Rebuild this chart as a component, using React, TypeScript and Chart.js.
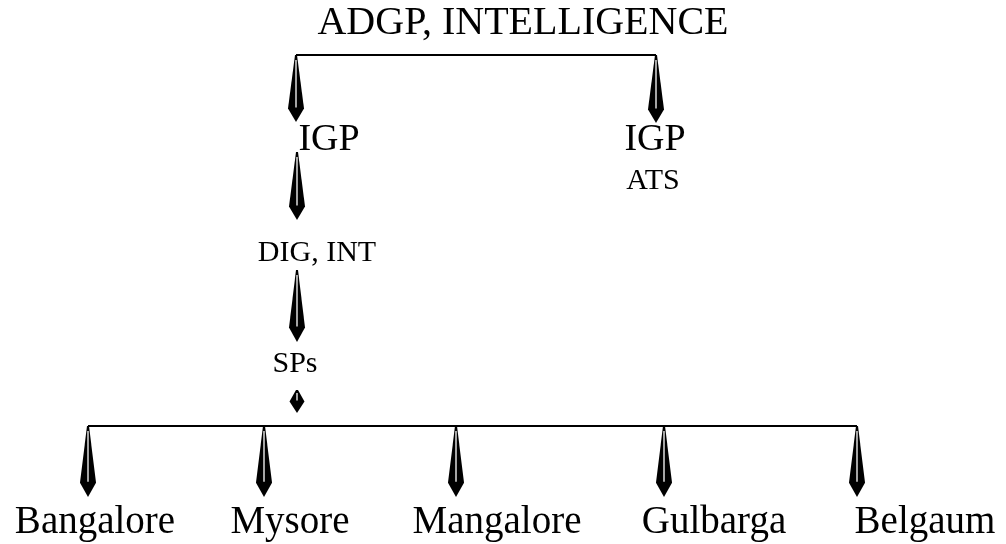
import React, { useEffect, useRef } from "react";
import { Chart, registerables } from "chart.js";

Chart.register(...registerables);

// Node labels (text), their centre x, baseline y and font size
const nodeLabels = ["ADGP, INTELLIGENCE", "IGP", "IGP", "ATS", "DIG, INT", "SPs", "Bangalore", "Mysore", "Mangalore", "Gulbarga", "Belgaum"];
const nodeX = [523, 329, 655, 653, 317, 295, 95, 290, 497, 714, 925];
const nodeY = [34, 150, 150, 189, 261, 372, 533, 533, 533, 533, 533];
const nodeSize = [40, 38, 38, 30, 30, 30, 39, 39, 39, 39, 39];

// Horizontal connectors
const topBarX = [296, 656];
const topBarY = 55;
const bottomBarX = [88, 857];
const bottomBarY = 426;

// Arrows: x, top y, tip y
const arrowX = [296, 656, 297, 297, 297, 88, 264, 456, 664, 857];
const arrowTop = [55, 55, 152, 270, 390, 426, 426, 426, 426, 426];
const arrowTip = [122, 123, 220, 342, 413, 497, 497, 497, 497, 497];

const W = 1006;
const H = 544;

export default function App() {
  const ref = useRef<HTMLCanvasElement | null>(null);

  useEffect(() => {
    document.body.style.margin = "0";
    const canvas = ref.current;
    if (!canvas) return;

    const orgPlugin = {
      id: "orgPlugin",
      afterDatasetsDraw(chart: any) {
        const ctx = chart.ctx;
        const xs = chart.scales.x;
        const ys = chart.scales.y;
        ctx.save();
        // arrows
        for (let i = 0; i < arrowX.length; i++) {
          const x = xs.getPixelForValue(arrowX[i]);
          const t = ys.getPixelForValue(arrowTop[i]);
          const b = ys.getPixelForValue(arrowTip[i]);
          const L = b - t;
          const small = L < 40;
          const half = small ? 7.5 : 8;
          const wideY = t + L * (small ? 0.5 : 0.8);
          ctx.beginPath();
          ctx.moveTo(x - 1, t);
          ctx.lineTo(x + 1, t);
          ctx.lineTo(x + half, wideY);
          ctx.lineTo(x, b);
          ctx.lineTo(x - half, wideY);
          ctx.closePath();
          ctx.fillStyle = "#000";
          ctx.fill();
          ctx.beginPath();
          ctx.moveTo(x, t + (small ? 3 : 5));
          ctx.lineTo(x, wideY - 1);
          ctx.strokeStyle = "#fff";
          ctx.lineWidth = 1.3;
          ctx.stroke();
        }
        // labels
        ctx.fillStyle = "#000";
        ctx.textAlign = "center";
        ctx.textBaseline = "alphabetic";
        for (let i = 0; i < nodeLabels.length; i++) {
          ctx.font = `${nodeSize[i]}px "Liberation Serif", "Times New Roman", serif`;
          ctx.fillText(nodeLabels[i], xs.getPixelForValue(nodeX[i]), ys.getPixelForValue(nodeY[i]));
        }
        ctx.restore();
      },
    };

    const chart = new Chart(canvas, {
      type: "scatter",
      data: {
        datasets: [
          {
            data: topBarX.map((x) => ({ x, y: topBarY })),
            showLine: true,
            borderColor: "#000",
            borderWidth: 2,
            pointRadius: 0,
          },
          {
            data: bottomBarX.map((x) => ({ x, y: bottomBarY })),
            showLine: true,
            borderColor: "#000",
            borderWidth: 2,
            pointRadius: 0,
          },
        ],
      },
      options: {
        animation: false,
        responsive: false,
        devicePixelRatio: 1,
        layout: { padding: 0 },
        plugins: { legend: { display: false }, tooltip: { enabled: false } },
        scales: {
          x: { type: "linear", min: 0, max: W, display: false, bounds: "data" },
          y: { type: "linear", min: 0, max: H, reverse: true, display: false },
        },
      },
      plugins: [orgPlugin],
    });
    return () => chart.destroy();
  }, []);

  return (
    <div style={{ position: "absolute", left: 0, top: 0, width: W, height: H, background: "#fff" }}>
      <canvas ref={ref} width={W} height={H} style={{ display: "block" }} />
    </div>
  );
}
